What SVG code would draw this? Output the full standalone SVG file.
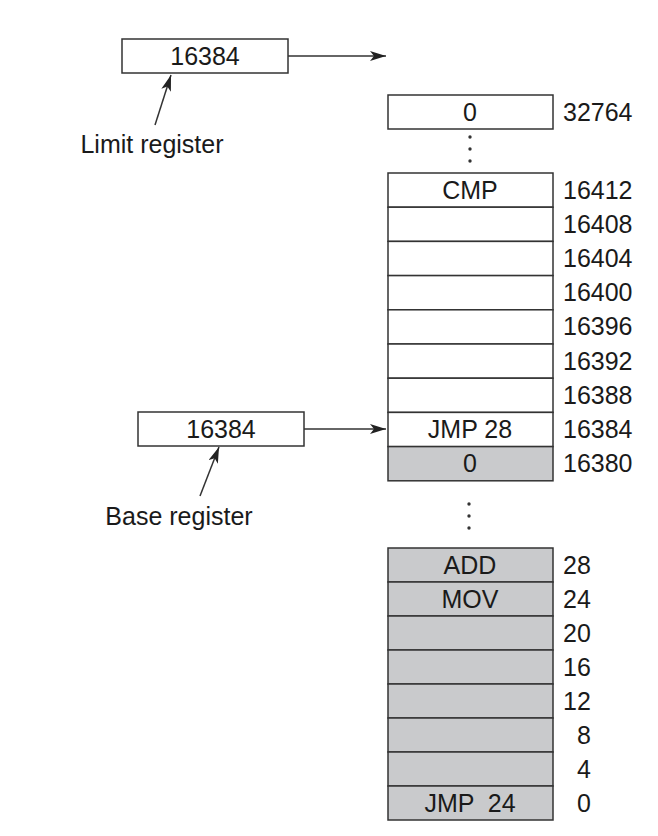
<svg xmlns="http://www.w3.org/2000/svg" width="658" height="836" viewBox="0 0 658 836">
<style>
text{font-family:"Liberation Sans",Arial,sans-serif;font-size:25px;fill:#1a1a1a}
.c{text-anchor:middle}
.e{text-anchor:end}
.box{fill:#fff;stroke:#333;stroke-width:1.5}
.g{fill:#c9cacc;stroke:#333;stroke-width:1.5}
.ln{stroke:#333;stroke-width:1.5;fill:none}
.dot{fill:#333}
</style>
<defs>
<marker id="ah" viewBox="0 0 16 10" refX="16" refY="5" markerWidth="16" markerHeight="10" markerUnits="userSpaceOnUse" orient="auto">
<path d="M0,0 L16,5 L0,10 L4,5 Z" fill="#222"/>
</marker>
</defs>
<g id="limit-register">
<rect class="box" x="122" y="39" width="166" height="34"/>
<text class="c" x="205" y="65">16384</text>
</g>
<g id="limit-label">
<text class="c" x="152" y="153">Limit register</text>
</g>
<g id="base-register">
<rect class="box" x="138" y="412" width="166" height="34"/>
<text class="c" x="221" y="438">16384</text>
</g>
<g id="base-label">
<text class="c" x="179" y="525">Base register</text>
</g>
<g id="cell-32764">
<rect class="box" x="388" y="95" width="165" height="34"/>
<text class="c" x="470" y="121">0</text>
<text x="563" y="121">32764</text>
</g>
<g id="dots-top">
<circle class="dot" cx="470" cy="137" r="1.7"/>
<circle class="dot" cx="470" cy="149" r="1.7"/>
<circle class="dot" cx="470" cy="161" r="1.7"/>
</g>
<g id="cell-16412"><rect class="box" x="388" y="173" width="165" height="34.2"/><text class="c" x="470" y="199">CMP</text><text x="563" y="199">16412</text></g>
<g id="cell-16408"><rect class="box" x="388" y="207.2" width="165" height="34.2"/><text x="563" y="233">16408</text></g>
<g id="cell-16404"><rect class="box" x="388" y="241.4" width="165" height="34.2"/><text x="563" y="267">16404</text></g>
<g id="cell-16400"><rect class="box" x="388" y="275.6" width="165" height="34.2"/><text x="563" y="301">16400</text></g>
<g id="cell-16396"><rect class="box" x="388" y="309.8" width="165" height="34.2"/><text x="563" y="335">16396</text></g>
<g id="cell-16392"><rect class="box" x="388" y="344" width="165" height="34.2"/><text x="563" y="370">16392</text></g>
<g id="cell-16388"><rect class="box" x="388" y="378.2" width="165" height="34.2"/><text x="563" y="404">16388</text></g>
<g id="cell-16384"><rect class="box" x="388" y="412.4" width="165" height="34.2"/><text class="c" x="470" y="438">JMP 28</text><text x="563" y="438">16384</text></g>
<g id="cell-16380"><rect class="g" x="388" y="446.6" width="165" height="34.2"/><text class="c" x="470" y="472">0</text><text x="563" y="472">16380</text></g>
<g id="dots-bottom">
<circle class="dot" cx="469" cy="504" r="1.7"/>
<circle class="dot" cx="469" cy="516" r="1.7"/>
<circle class="dot" cx="469" cy="528" r="1.7"/>
</g>
<g id="cell-28"><rect class="g" x="388" y="548" width="165" height="34"/><text class="c" x="470" y="574">ADD</text><text x="563" y="574">28</text></g>
<g id="cell-24"><rect class="g" x="388" y="582" width="165" height="34"/><text class="c" x="470" y="608">MOV</text><text x="563" y="608">24</text></g>
<g id="cell-20"><rect class="g" x="388" y="616" width="165" height="34"/><text x="563" y="642">20</text></g>
<g id="cell-16"><rect class="g" x="388" y="650" width="165" height="34"/><text x="563" y="676">16</text></g>
<g id="cell-12"><rect class="g" x="388" y="684" width="165" height="34"/><text x="563" y="710">12</text></g>
<g id="cell-8"><rect class="g" x="388" y="718" width="165" height="34"/><text class="e" x="591" y="744">8</text></g>
<g id="cell-4"><rect class="g" x="388" y="752" width="165" height="34"/><text class="e" x="591" y="778">4</text></g>
<g id="cell-0"><rect class="g" x="388" y="786" width="165" height="34"/><text class="c" x="470" y="812" style="white-space:pre">JMP  24</text><text class="e" x="591" y="812">0</text></g>
<g id="connectors">
<line class="ln" x1="288" y1="56" x2="386" y2="56" marker-end="url(#ah)"/>
<line class="ln" x1="304" y1="429" x2="386" y2="429" marker-end="url(#ah)"/>
<line class="ln" x1="155" y1="125" x2="171" y2="75" marker-end="url(#ah)"/>
<line class="ln" x1="200" y1="496" x2="219" y2="447" marker-end="url(#ah)"/>
</g>
</svg>
